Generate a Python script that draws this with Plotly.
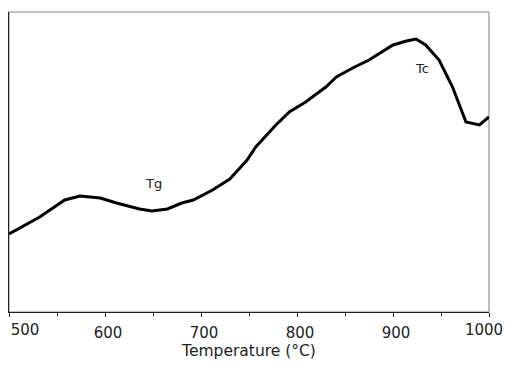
import plotly.graph_objects as go

temperature = [500, 532, 558, 574, 595, 612, 636, 649, 665, 680, 692, 712, 730, 748, 757,
               778, 792, 809, 830, 841, 858, 875, 900, 914, 924, 934, 948, 962, 976, 990, 1000]
signal = [78, 95, 112, 116, 114, 109, 103, 101, 103, 109, 112, 122, 133, 152, 165,
          187, 200, 210, 225, 235, 244, 252, 267, 271, 273, 267, 252, 225, 190, 187, 195]
tick_vals = [500, 600, 700, 800, 900, 1000]
tick_text = ["", "600", "700", "800", "900", ""]
first_tick_val = [500]
first_tick_text = ["500"]
last_tick_val = [1000]
last_tick_text = ["1000"]
labels = [("Tg", 650, 129), ("Tc", 930, 244)]

fig = go.Figure()
fig.add_trace(go.Scatter(x=temperature, y=signal, mode="lines",
                         line=dict(color="black", width=3), showlegend=False))
# invisible traces on the overlay axes that carry the end labels
fig.add_trace(go.Scatter(x=[temperature[0]], y=[signal[0]], xaxis="x2", mode="markers",
                         marker=dict(opacity=0), showlegend=False, hoverinfo="skip"))
fig.add_trace(go.Scatter(x=[temperature[-1]], y=[signal[-1]], xaxis="x3", mode="markers",
                         marker=dict(opacity=0), showlegend=False, hoverinfo="skip"))

for text, x, y in labels:
    fig.add_annotation(x=x, y=y, text=text, showarrow=False,
                       font=dict(family="DejaVu Sans", size=13, color="#222"))

# grey plot frame (top/right appear grey in the reference)
fig.add_shape(type="rect", xref="paper", yref="paper", x0=0, y0=0, x1=1, y1=1,
              line=dict(color="#808080", width=1), layer="below")

tick_font = dict(size=15, color="#222")
overlay_common = dict(range=[500, 1000], overlaying="x", anchor="y", side="bottom",
                      ticks="", tickfont=tick_font, automargin=False,
                      ticklabelstandoff=7, ticklabeloverflow="allow",
                      showline=False, showgrid=False, zeroline=False)

# page body has an 8px margin, so the figure is sized/offset to compensate
fig.update_layout(
    width=504, height=354,
    margin=dict(l=1, r=23, t=4, b=50),
    paper_bgcolor="white", plot_bgcolor="white",
    font=dict(family="DejaVu Sans", color="#222"),
    xaxis=dict(range=[500, 1000], tickvals=tick_vals, ticktext=tick_text,
               ticks="outside", ticklen=4,
               tickcolor="#222", tickfont=tick_font, automargin=False,
               ticklabelshift=3, ticklabelstandoff=3, ticklabeloverflow="allow",
               showline=True, linecolor="#222", linewidth=1, mirror=False,
               showgrid=False, zeroline=False,
               minor=dict(ticks="outside", ticklen=3, dtick=50, tickcolor="#222", showgrid=False),
               title=dict(text="Temperature (°C)", font=dict(size=15.5), standoff=4)),
    xaxis2=dict(tickvals=first_tick_val, ticktext=first_tick_text, ticklabelshift=16,
                **overlay_common),
    xaxis3=dict(tickvals=last_tick_val, ticktext=last_tick_text, ticklabelshift=-5,
                **overlay_common),
    yaxis=dict(range=[0, 300], showticklabels=False, ticks="", automargin=False,
               showline=True, linecolor="#222", linewidth=1, mirror=False,
               showgrid=False, zeroline=False),
)

fig.write_html("out.html")
